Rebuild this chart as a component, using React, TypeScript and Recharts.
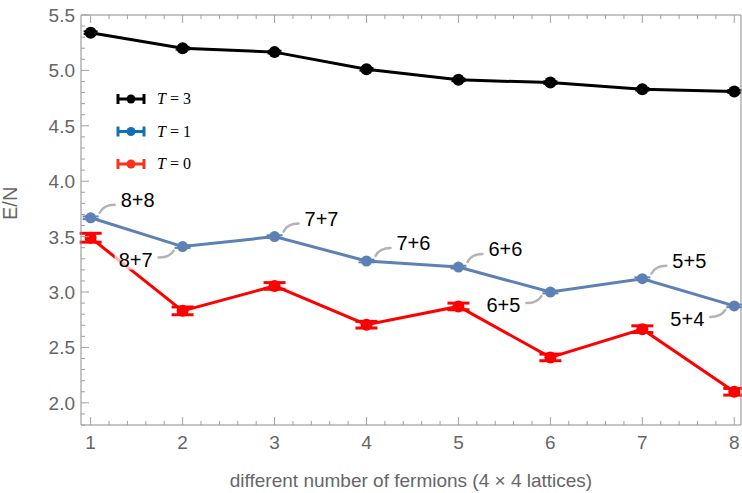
import { LineChart, Line, XAxis, YAxis, ErrorBar, LabelList, Legend } from "recharts";

// number of fermions on a 4x4 lattice, index 1..8
const fermions = [1, 2, 3, 4, 5, 6, 7, 8];
const energyT3 = [5.34, 5.2, 5.165, 5.01, 4.915, 4.89, 4.83, 4.81];
const errT3 = [0.012, 0.012, 0.012, 0.012, 0.012, 0.012, 0.012, 0.012];
const energyT1 = [3.67, 3.41, 3.5, 3.28, 3.225, 3.0, 3.12, 2.875];
const errT1 = [0.012, 0.012, 0.012, 0.012, 0.012, 0.012, 0.012, 0.012];
const energyT0 = [3.49, 2.83, 3.055, 2.705, 2.87, 2.41, 2.665, 2.1];
const errT0 = [0.04, 0.035, 0.03, 0.03, 0.03, 0.03, 0.03, 0.03];
const pairLabels = ["8+8", "8+7", "7+7", "7+6", "6+6", "6+5", "5+5", "5+4"];
const pairBelow = [false, true, false, false, false, true, false, true];

const xMajorTicks = [1, 2, 3, 4, 5, 6, 7, 8];
const yMajorTicks = [2.0, 2.5, 3.0, 3.5, 4.0, 4.5, 5.0, 5.5];
const legendLabels = ["3", "1", "0"];
const legendColors = ["#000000", "#1170b9", "#ff3118"];

const xDomain = [0.895, 8.073];
const yDomain = [1.8, 5.5];

// minor ticks: 0.2 on x, 0.1 on y
const xTicks: number[] = [];
for (let i = 0; i <= 35; i++) xTicks.push(Math.round((1 + i * 0.2) * 10) / 10);
const yTicks: number[] = [];
for (let i = 0; i <= 37; i++) yTicks.push(Math.round((1.8 + i * 0.1) * 10) / 10);

const data = fermions.map((x, i) => ({
  x,
  t3: energyT3[i],
  t3err: errT3[i],
  t1: energyT1[i],
  t1err: errT1[i],
  t0: energyT0[i],
  t0err: errT0[i],
  pair: pairLabels[i],
}));

const FRAME = "#8c8c8c";
const TICK = "#a0a0a0";
const TEXT = "#666666";
const SANS = "'Liberation Sans', Arial, sans-serif";

const isMajor = (v: number, list: number[]) => list.some((m) => Math.abs(m - v) < 1e-6);

const BottomTick = ({ x, y, payload }: any) => {
  const major = isMajor(payload.value, xMajorTicks);
  return (
    <g>
      <line x1={x} x2={x} y1={y} y2={y - (major ? 8 : 4)} stroke={TICK} strokeWidth={1} />
      {major && (
        <text x={x} y={y + 24} textAnchor="middle" fontSize={19} fill={TEXT} fontFamily={SANS}>
          {payload.value}
        </text>
      )}
    </g>
  );
};

const TopTick = ({ x, y, payload }: any) => {
  const major = isMajor(payload.value, xMajorTicks);
  return <line x1={x} x2={x} y1={y} y2={y + (major ? 8 : 4)} stroke={TICK} strokeWidth={1} />;
};

const LeftTick = ({ x, y, payload }: any) => {
  const major = isMajor(payload.value, yMajorTicks);
  return (
    <g>
      <line x1={x} x2={x + (major ? 8 : 4)} y1={y} y2={y} stroke={TICK} strokeWidth={1} />
      {major && (
        <text x={x - 6} y={y + 7} textAnchor="end" fontSize={19} fill={TEXT} fontFamily={SANS}>
          {payload.value.toFixed(1)}
        </text>
      )}
    </g>
  );
};

const RightTick = ({ x, y, payload }: any) => {
  const major = isMajor(payload.value, yMajorTicks);
  return <line x1={x} x2={x - (major ? 8 : 4)} y1={y} y2={y} stroke={TICK} strokeWidth={1} />;
};

const PairLabel = (props: any) => {
  const { x, y, value, index } = props;
  const px = Number(x);
  const py = Number(y);
  const w = 36;
  if (pairBelow[index]) {
    const right = px - 30;
    return (
      <g>
        <path
          d={`M${px - 9},${py + 4} Q${px - 13},${py + 11} ${px - 24},${py + 11}`}
          stroke="#b4b4b4"
          strokeWidth={2.5}
          fill="none"
          strokeLinecap="round"
        />
        <rect x={right - w - 2} y={py + 3} width={w + 4} height={20} fill="#fff" fillOpacity={0.7} />
        <text x={right} y={py + 20} textAnchor="end" fontSize={20} fill="#000" fontFamily={SANS}>
          {value}
        </text>
      </g>
    );
  }
  const left = px + 30;
  return (
    <g>
      <path
        d={`M${px + 9},${py - 5} Q${px + 13},${py - 13} ${px + 24},${py - 13}`}
        stroke="#b4b4b4"
        strokeWidth={2.5}
        fill="none"
        strokeLinecap="round"
      />
      <rect x={left - 2} y={py - 28} width={w + 4} height={20} fill="#fff" fillOpacity={0.7} />
      <text x={left} y={py - 11} textAnchor="start" fontSize={20} fill="#000" fontFamily={SANS}>
        {value}
      </text>
    </g>
  );
};

const LegendBox = () => (
  <svg width={100} height={96}>
    {legendLabels.map((t, i) => {
      const cy = 14 + i * 32.5;
      const c = legendColors[i];
      return (
        <g key={t}>
          <line x1={9} x2={37} y1={cy} y2={cy} stroke={c} strokeWidth={3} />
          <line x1={10} x2={10} y1={cy - 5} y2={cy + 5} stroke={c} strokeWidth={3} />
          <line x1={36} x2={36} y1={cy - 5} y2={cy + 5} stroke={c} strokeWidth={3} />
          <circle cx={23} cy={cy} r={4.5} fill={c} />
          <text x={49} y={cy + 5} fontSize={16} fill="#000" fontFamily="'Liberation Serif', 'Times New Roman', serif">
            <tspan fontStyle="italic">T</tspan>
            {" = " + t}
          </text>
        </g>
      );
    })}
  </svg>
);

export default function App() {
  return (
    <div style={{ position: "absolute", left: 0, top: 0, width: 742, height: 493, background: "#fff" }}>
      <LineChart width={742} height={493} data={data} margin={{ top: 0, right: 0, bottom: 0, left: 0 }}>
        <XAxis
          dataKey="x"
          type="number"
          domain={xDomain}
          ticks={xTicks}
          interval={0}
          tickSize={0}
          tickMargin={0}
          tickLine={false}
          tick={BottomTick}
          axisLine={{ stroke: FRAME, strokeWidth: 1 }}
          height={68}
          label={{
            value: "different number of fermions (4 \u00d7 4 lattices)",
            position: "insideBottom",
            offset: 6,
            fill: TEXT,
            fontSize: 19,
            fontFamily: SANS,
          }}
        />
        <XAxis
          xAxisId="top"
          orientation="top"
          dataKey="x"
          type="number"
          domain={xDomain}
          ticks={xTicks}
          interval={0}
          tickSize={0}
          tickMargin={0}
          tickLine={false}
          tick={TopTick}
          axisLine={{ stroke: FRAME, strokeWidth: 1 }}
          height={15}
        />
        <YAxis
          type="number"
          domain={yDomain}
          ticks={yTicks}
          interval={0}
          tickSize={0}
          tickMargin={0}
          tickLine={false}
          tick={LeftTick}
          axisLine={{ stroke: FRAME, strokeWidth: 1 }}
          width={81}
          label={{
            value: "E/N",
            angle: -90,
            position: "insideLeft",
            offset: 10,
            dy: 0,
            fill: TEXT,
            fontSize: 20,
            fontFamily: SANS,
          }}
        />
        <YAxis
          yAxisId="right"
          orientation="right"
          type="number"
          domain={yDomain}
          ticks={yTicks}
          interval={0}
          tickSize={0}
          tickMargin={0}
          tickLine={false}
          tick={RightTick}
          axisLine={{ stroke: FRAME, strokeWidth: 1 }}
          width={1}
        />
        <Legend
          layout="vertical"
          align="center"
          verticalAlign="middle"
          content={LegendBox}
          wrapperStyle={{ left: 108, top: 85, width: 100, height: 96 }}
        />
        <Line
          dataKey="t3"
          stroke="#000"
          strokeWidth={3}
          dot={{ r: 6, fill: "#000", stroke: "none" }}
          isAnimationActive={false}
        >
          <ErrorBar dataKey="t3err" direction="y" width={7} stroke="#000" strokeWidth={2} isAnimationActive={false} />
        </Line>
        <Line
          dataKey="t0"
          stroke="#ff0000"
          strokeWidth={3}
          dot={{ r: 6, fill: "#ff0000", stroke: "none" }}
          isAnimationActive={false}
        >
          <ErrorBar dataKey="t0err" direction="y" width={11} stroke="#ff0000" strokeWidth={3} isAnimationActive={false} />
        </Line>
        <Line
          dataKey="t1"
          stroke="#5e81b5"
          strokeWidth={3}
          dot={{ r: 5.5, fill: "#5e81b5", stroke: "none" }}
          isAnimationActive={false}
        >
          <ErrorBar dataKey="t1err" direction="y" width={8} stroke="#5e81b5" strokeWidth={2} isAnimationActive={false} />
          <LabelList dataKey="pair" content={PairLabel} />
        </Line>
      </LineChart>
    </div>
  );
}
